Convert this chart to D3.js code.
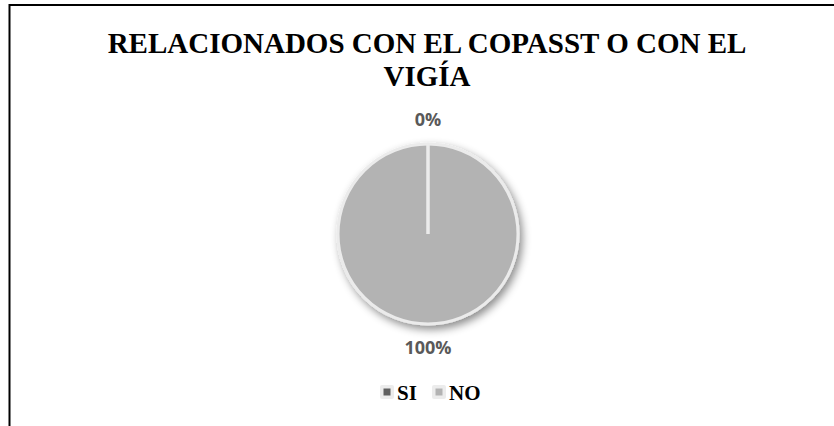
<!DOCTYPE html>
<html>
<head>
<meta charset="utf-8">
<script src="https://cdn.jsdelivr.net/npm/d3@7"></script>
<style>
  body { margin: 0; background: #fff; }
  svg { display: block; }
  .serif { font-family: "Liberation Serif", "Times New Roman", "DejaVu Serif", serif; font-weight: bold; }
  .sans { font-family: "Open Sans", "Liberation Sans", sans-serif; font-weight: bold; }
</style>
</head>
<body>
<div class="container"></div>
<script>
var categories = ["SI", "NO"];
var values = [0, 100];
var colors = ["#606060", "#b3b3b3"];
var titleLines = ["RELACIONADOS CON EL COPASST O CON EL", "VIGÍA"];

var w = 834;
var h = 426;

var svg = d3.select(".container")
    .append("svg")
    .attr("width", w)
    .attr("height", h);

// frame: only top and left edges show
svg.append("path")
    .attr("d", "M9.5,426 L9.5,5 L834,5")
    .attr("fill", "none")
    .attr("stroke", "#000")
    .attr("stroke-width", 2);

var defs = svg.append("defs");
var f = defs.append("filter").attr("id", "shadow")
    .attr("x", "-20%").attr("y", "-20%").attr("width", "150%").attr("height", "150%");
f.append("feDropShadow")
    .attr("dx", 3).attr("dy", 4)
    .attr("stdDeviation", 4)
    .attr("flood-color", "#000")
    .attr("flood-opacity", 0.45);

svg.selectAll("text.title")
    .data(titleLines)
    .enter()
    .append("text")
    .attr("class", "title serif")
    .attr("x", 427)
    .attr("y", function(d, i) { return 53 + i * 33; })
    .attr("text-anchor", "middle")
    .style("font-size", "29px")
    .attr("fill", "#000")
    .text(function(d) { return d; });

var cx = 428, cy = 234, r = 90;
var total = d3.sum(values);

var pie = d3.pie().sort(null).value(function(d) { return d; });
var arcs = pie(values);
var arc = d3.arc().innerRadius(0).outerRadius(r);

var g = svg.append("g").attr("transform", "translate(" + cx + "," + cy + ")");

g.selectAll("path.slice")
    .data(arcs)
    .enter()
    .append("path")
    .attr("class", "slice")
    .attr("d", arc)
    .attr("fill", function(d, i) { return colors[i]; })
    .attr("stroke", "#ebebeb")
    .attr("stroke-width", 3)
    .attr("filter", "url(#shadow)");

// slice edges
g.selectAll("line.edge")
    .data(arcs)
    .enter()
    .append("line")
    .attr("class", "edge")
    .attr("x1", 0).attr("y1", 0)
    .attr("x2", function(d) { return r * Math.sin(d.startAngle); })
    .attr("y2", function(d) { return -r * Math.cos(d.startAngle); })
    .attr("stroke", "#ebebeb")
    .attr("stroke-width", 3);

var labelR = 114;
g.selectAll("text.lbl")
    .data(arcs)
    .enter()
    .append("text")
    .attr("class", "lbl sans")
    .attr("x", function(d) { var a = (d.startAngle + d.endAngle) / 2; return labelR * Math.sin(a); })
    .attr("y", function(d) { var a = (d.startAngle + d.endAngle) / 2; return -labelR * Math.cos(a); })
    .attr("dy", "0.36em")
    .attr("text-anchor", "middle")
    .style("font-size", "18px")
    .attr("fill", "#595959")
    .text(function(d) { return Math.round(d.data / total * 100) + "%"; });

// legend
var legendX = d3.scalePoint().domain(categories).range([387, 439]);
var lg = svg.selectAll("g.leg")
    .data(categories)
    .enter()
    .append("g")
    .attr("class", "leg")
    .attr("transform", function(d) { return "translate(" + legendX(d) + ",392)"; });

lg.append("rect")
    .attr("x", -7).attr("y", -7)
    .attr("width", 14).attr("height", 14)
    .attr("rx", 2)
    .attr("fill", "#ececec");
lg.append("rect")
    .attr("x", -3.5).attr("y", -3.5)
    .attr("width", 7).attr("height", 7)
    .attr("fill", function(d, i) { return colors[i]; });
lg.append("text")
    .attr("class", "serif")
    .attr("x", 10)
    .attr("y", 8)
    .style("font-size", "21px")
    .attr("fill", "#000")
    .text(function(d) { return d; });
</script>
</body>
</html>
